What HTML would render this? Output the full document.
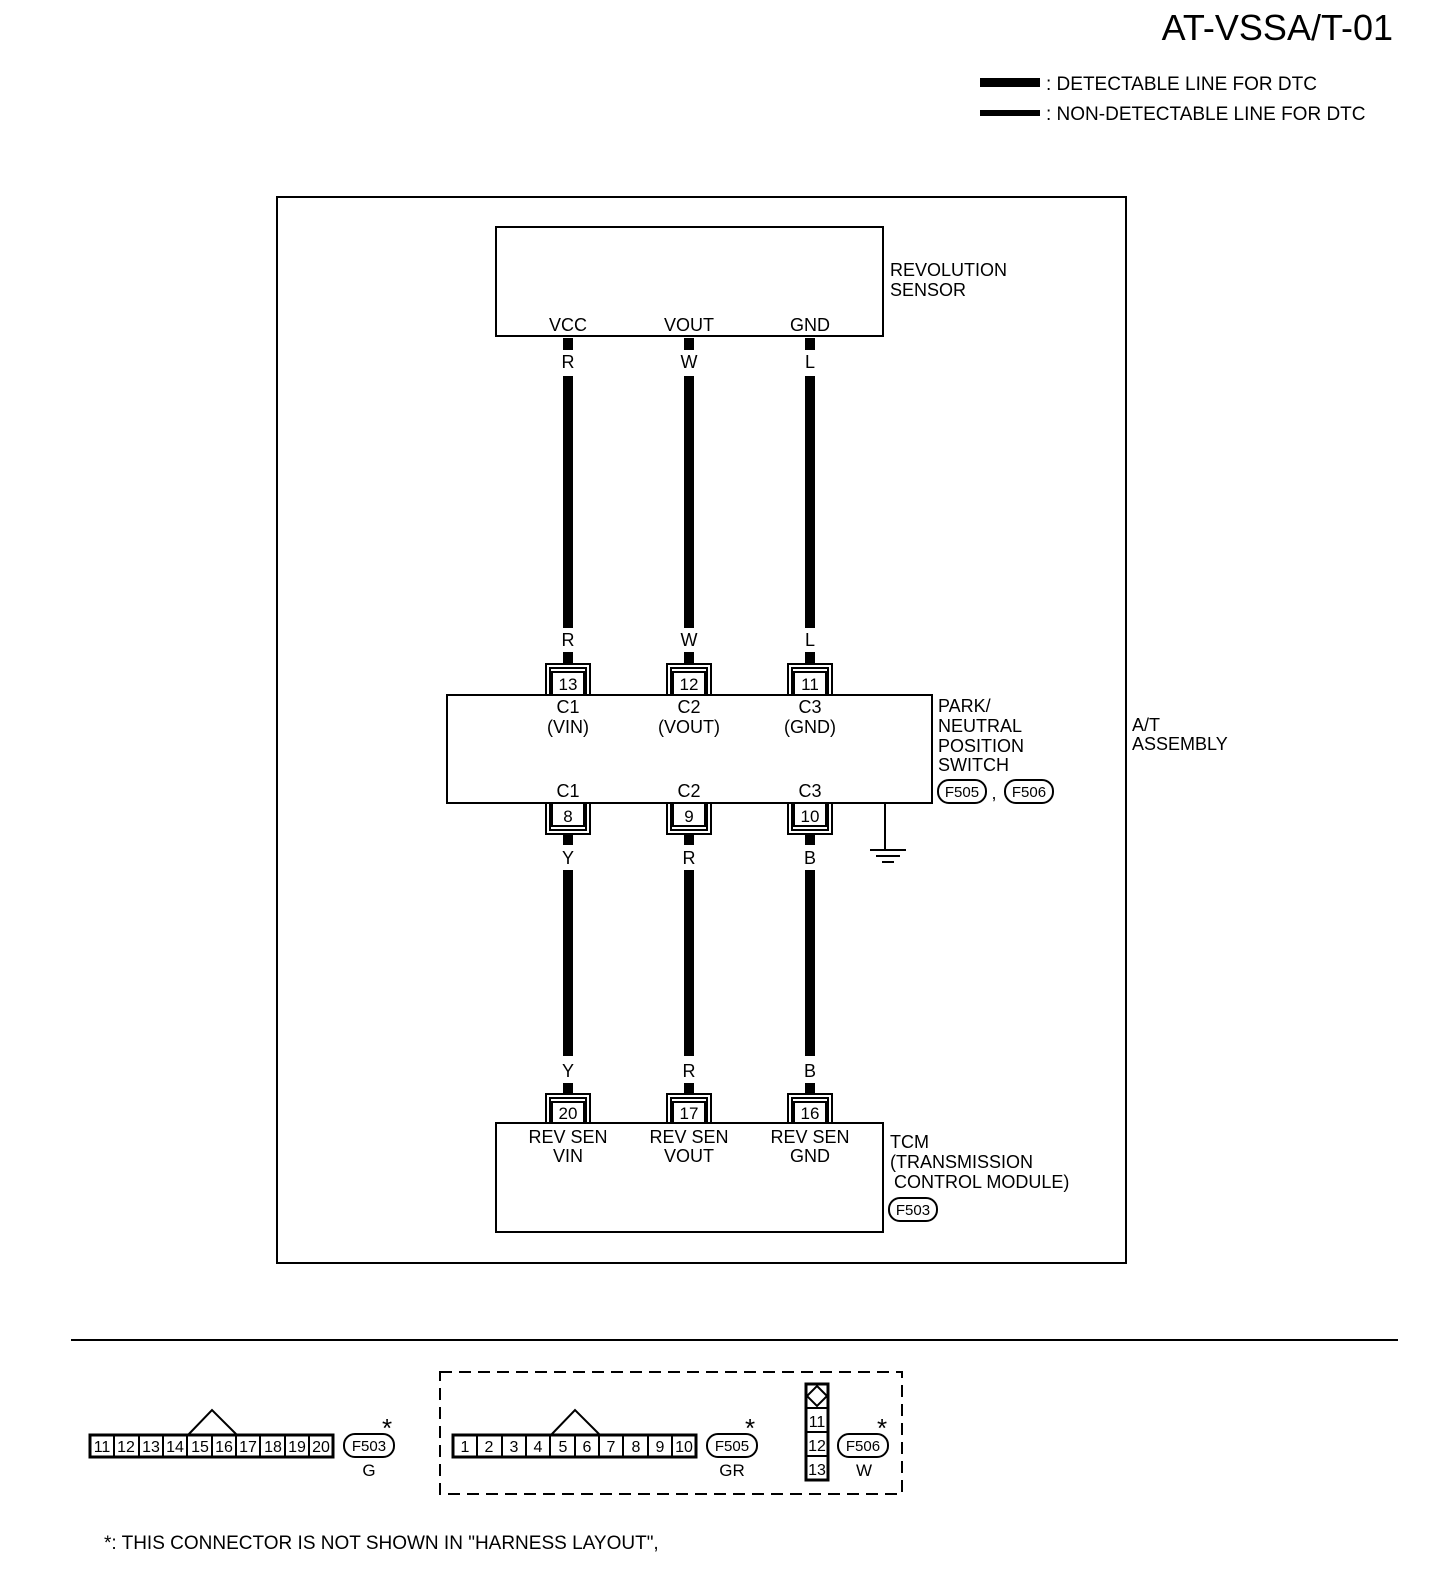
<!DOCTYPE html>
<html><head><style>body{margin:0;background:#fff}svg{display:block}text{font-family:"Liberation Sans",sans-serif;fill:#000}</style></head><body>
<svg width="1456" height="1584" viewBox="0 0 1456 1584" xmlns="http://www.w3.org/2000/svg">
<text x="1393" y="40" font-size="36" text-anchor="end">AT-VSSA/T-01</text>
<rect x="980" y="78" width="60" height="9"/><text x="1046" y="90" font-size="19">: DETECTABLE LINE FOR DTC</text>
<rect x="980" y="110" width="60" height="6"/><text x="1046" y="120" font-size="19">: NON-DETECTABLE LINE FOR DTC</text>
<rect x="277" y="197" width="849" height="1066" fill="none" stroke="#000" stroke-width="2"/>
<g fill="none" stroke="#000" stroke-width="2">
<rect x="496" y="227" width="387" height="109"/>
<rect x="447" y="695" width="485" height="108"/>
<rect x="496" y="1123" width="387" height="109"/>
<path d="M885 803V850M870 850H906M876 856H900M882 862H894"/>
<line x1="71" y1="1340" x2="1398" y2="1340"/>
<rect x="440" y="1372" width="462" height="122" stroke-dasharray="12,7"/>
</g>
<g font-size="18" text-anchor="middle">
<text x="568" y="331">VCC</text><text x="689" y="331">VOUT</text><text x="810" y="331">GND</text>
</g>
<g font-size="18"><text x="890" y="276">REVOLUTION</text><text x="890" y="296">SENSOR</text>
<text x="938" y="712">PARK/</text><text x="938" y="732">NEUTRAL</text><text x="938" y="752">POSITION</text><text x="938" y="771">SWITCH</text>
<text x="1132" y="731">A/T</text><text x="1132" y="750">ASSEMBLY</text>
<text x="890" y="1148">TCM</text><text x="890" y="1168">(TRANSMISSION</text><text x="894" y="1188">CONTROL MODULE)</text>
<text x="104" y="1549" font-size="19">*: THIS CONNECTOR IS NOT SHOWN IN "HARNESS LAYOUT",</text>
</g>
<g fill="none" stroke="#000" stroke-width="2">
<rect x="938" y="780" width="48" height="23" rx="11"/><rect x="1005" y="780" width="48" height="23" rx="11"/>
<rect x="889" y="1198" width="48" height="23" rx="11"/>
</g>
<g font-size="15" text-anchor="middle"><text x="962" y="797">F505</text><text x="994" y="799" font-size="18">,</text><text x="1029" y="797">F506</text><text x="913" y="1215">F503</text></g>
<g fill="#000">
<rect x="563" y="338" width="10" height="12"/><rect x="563" y="376" width="10" height="252"/><rect x="563" y="652" width="10" height="13"/>
<rect x="684" y="338" width="10" height="12"/><rect x="684" y="376" width="10" height="252"/><rect x="684" y="652" width="10" height="13"/>
<rect x="805" y="338" width="10" height="12"/><rect x="805" y="376" width="10" height="252"/><rect x="805" y="652" width="10" height="13"/>
<rect x="563" y="833" width="10" height="12"/><rect x="563" y="870" width="10" height="186"/><rect x="563" y="1083" width="10" height="12"/>
<rect x="684" y="833" width="10" height="12"/><rect x="684" y="870" width="10" height="186"/><rect x="684" y="1083" width="10" height="12"/>
<rect x="805" y="833" width="10" height="12"/><rect x="805" y="870" width="10" height="186"/><rect x="805" y="1083" width="10" height="12"/>
</g>
<g font-size="18" text-anchor="middle">
<text x="568" y="368">R</text><text x="689" y="368">W</text><text x="810" y="368">L</text>
<text x="568" y="646">R</text><text x="689" y="646">W</text><text x="810" y="646">L</text>
<text x="568" y="713">C1</text><text x="568" y="733">(VIN)</text><text x="689" y="713">C2</text><text x="689" y="733">(VOUT)</text><text x="810" y="713">C3</text><text x="810" y="733">(GND)</text>
<text x="568" y="797">C1</text><text x="689" y="797">C2</text><text x="810" y="797">C3</text>
<text x="568" y="864">Y</text><text x="689" y="864">R</text><text x="810" y="864">B</text>
<text x="568" y="1077">Y</text><text x="689" y="1077">R</text><text x="810" y="1077">B</text>
<text x="568" y="1143">REV SEN</text><text x="568" y="1162">VIN</text><text x="689" y="1143">REV SEN</text><text x="689" y="1162">VOUT</text><text x="810" y="1143">REV SEN</text><text x="810" y="1162">GND</text>
</g>
<g fill="none" stroke="#000" stroke-width="2">
<path d="M546 695V664H590V695M550 695V668H586V695M552 695V672H584V695"/>
<path d="M667 695V664H711V695M671 695V668H707V695M673 695V672H705V695"/>
<path d="M788 695V664H832V695M792 695V668H828V695M794 695V672H826V695"/>
<path d="M546 803V834H590V803M550 803V830H586V803M552 803V826H584V803"/>
<path d="M667 803V834H711V803M671 803V830H707V803M673 803V826H705V803"/>
<path d="M788 803V834H832V803M792 803V830H828V803M794 803V826H826V803"/>
<path d="M546 1123V1094H590V1123M550 1123V1098H586V1123M552 1123V1102H584V1123"/>
<path d="M667 1123V1094H711V1123M671 1123V1098H707V1123M673 1123V1102H705V1123"/>
<path d="M788 1123V1094H832V1123M792 1123V1098H828V1123M794 1123V1102H826V1123"/>
</g>
<g font-size="17" text-anchor="middle">
<text x="568" y="690">13</text><text x="689" y="690">12</text><text x="810" y="690">11</text>
<text x="568" y="822">8</text><text x="689" y="822">9</text><text x="810" y="822">10</text>
<text x="568" y="1119">20</text><text x="689" y="1119">17</text><text x="810" y="1119">16</text>
</g>
<g fill="none" stroke="#000" stroke-width="2">
<rect x="90" y="1435" width="243" height="22" stroke-width="3"/>
<path d="M114 1435V1457M139 1435V1457M163 1435V1457M187 1435V1457M212 1435V1457M236 1435V1457M260 1435V1457M285 1435V1457M309 1435V1457"/>
<path d="M188 1435L212 1410L237 1435"/>
<rect x="453" y="1435" width="243" height="22" stroke-width="3"/>
<path d="M477 1435V1457M502 1435V1457M526 1435V1457M550 1435V1457M575 1435V1457M599 1435V1457M623 1435V1457M648 1435V1457M672 1435V1457"/>
<path d="M551 1435L575 1410L600 1435"/>
<rect x="806" y="1384" width="22" height="96" stroke-width="3"/>
<path d="M806 1408H828M806 1432H828M806 1456H828M817 1386L827 1396L817 1406L807 1396Z"/>
<rect x="344" y="1434" width="50" height="23" rx="11"/>
<rect x="707" y="1434" width="50" height="23" rx="11"/>
<rect x="838" y="1434" width="50" height="23" rx="11"/>
</g>
<g font-size="16" text-anchor="middle">
<text x="102" y="1452">11</text><text x="126" y="1452">12</text><text x="151" y="1452">13</text><text x="175" y="1452">14</text><text x="200" y="1452">15</text><text x="224" y="1452">16</text><text x="248" y="1452">17</text><text x="273" y="1452">18</text><text x="297" y="1452">19</text><text x="321" y="1452">20</text>
<text x="465" y="1452">1</text><text x="489" y="1452">2</text><text x="514" y="1452">3</text><text x="538" y="1452">4</text><text x="563" y="1452">5</text><text x="587" y="1452">6</text><text x="611" y="1452">7</text><text x="636" y="1452">8</text><text x="660" y="1452">9</text><text x="684" y="1452">10</text>
<text x="817" y="1427">11</text><text x="817" y="1451">12</text><text x="817" y="1475">13</text>
<text x="369" y="1451" font-size="15">F503</text><text x="732" y="1451" font-size="15">F505</text><text x="863" y="1451" font-size="15">F506</text>
<text x="369" y="1476" font-size="17">G</text><text x="732" y="1476" font-size="17">GR</text><text x="864" y="1476" font-size="17">W</text>
<text x="387" y="1437" font-size="26">*</text><text x="750" y="1437" font-size="26">*</text><text x="882" y="1437" font-size="26">*</text>
</g>
</svg>
</body></html>
